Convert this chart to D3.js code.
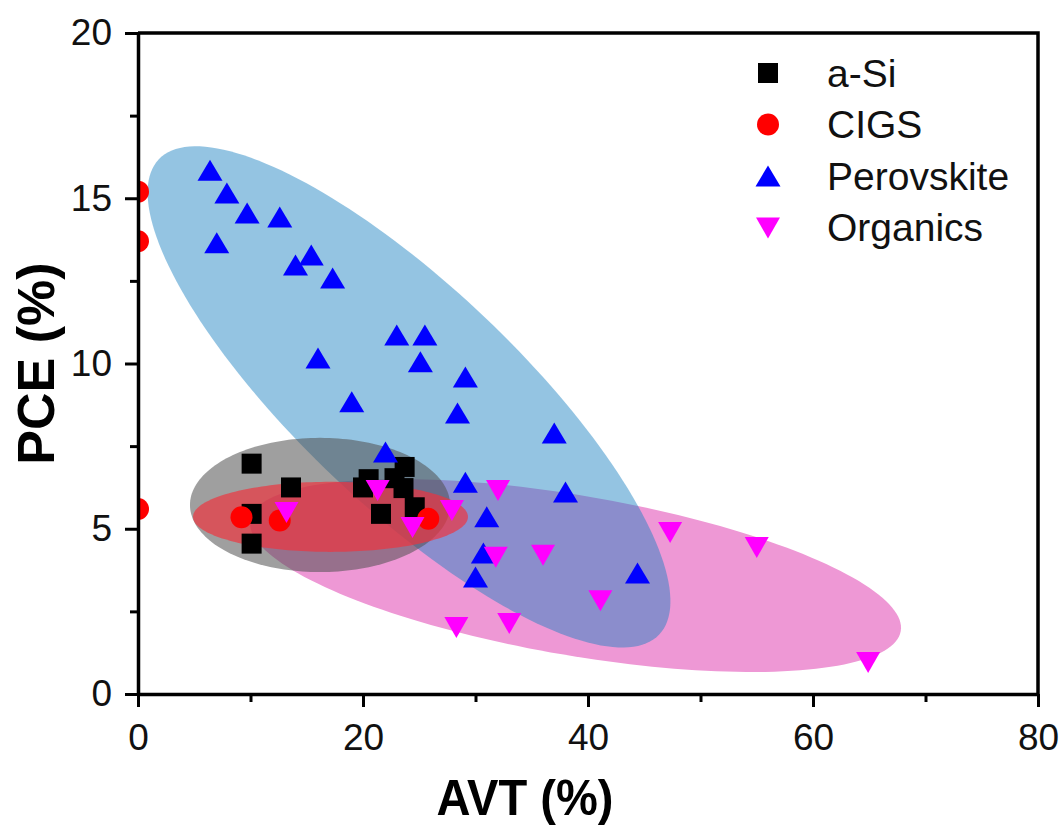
<!DOCTYPE html>
<html>
<head>
<meta charset="utf-8">
<script src="https://cdn.jsdelivr.net/npm/d3@7"></script>
<style>
  body { margin: 0; background: #fff; }
  svg { display: block; font-family: Arial, "Liberation Sans", sans-serif; }
</style>
</head>
<body>
<script>
const width = 1062;
const height = 827;

// series values (AVT %, PCE %)
const seriesNames = ["a-Si", "CIGS", "Perovskite", "Organics"];

const aSiAVT = [10.1, 13.6, 10.1, 10.1, 20.0, 20.5, 22.8, 23.7, 23.6, 21.6, 24.6];
const aSiPCE = [6.97, 6.25, 5.45, 4.55, 6.25, 6.5, 6.53, 6.87, 6.23, 5.45, 5.65];

const cigsAVT = [0, 0, 0, 9.2, 12.6, 25.8];
const cigsPCE = [15.2, 13.7, 5.6, 5.35, 5.25, 5.3];

const perovAVT = [6.4, 7.9, 9.7, 7.0, 12.6, 15.4, 14.0, 17.3, 23.0, 25.5, 25.1, 16.0,
                  29.1, 19.0, 28.4, 22.0, 37.0, 29.1, 38.0, 31.0, 30.7, 30.0, 44.4];
const perovPCE = [15.85, 15.16, 14.55, 13.65, 14.43, 13.28, 12.98, 12.59, 10.86, 10.86, 10.05, 10.17,
                  9.59, 8.84, 8.5, 7.32, 7.9, 6.41, 6.11, 5.36, 4.27, 3.54, 3.66];

const orgAVT = [21.3, 13.2, 24.4, 27.9, 32.0, 31.8, 36.0, 41.1, 28.3, 33.0, 47.3, 55.0, 64.9];
const orgPCE = [6.17, 5.51, 5.05, 5.57, 6.17, 4.15, 4.21, 2.84, 2.03, 2.15, 4.9, 4.45, 0.97];

// shaded regions, in data units: centre and two conjugate semi-axes
const regionOrder = ["Organics", "Perovskite", "a-Si", "CIGS"];
const regionCenter = [[38.89, 3.585], [24.09, 8.99], [16.18, 5.72], [17.11, 5.36]];
const regionAxisA = [[28.91, -1.682], [22.24, -7.19], [11.56, 0], [12.22, 0]];
const regionAxisB = [[-1.198, -2.386], [-6.73, -2.41], [0, 2.03], [0, 1.06]];

const xTicks = [0, 20, 40, 60, 80];
const xMinor = [10, 30, 50, 70];
const yTicks = [0, 5, 10, 15, 20];
const yMinor = [2.5, 7.5, 12.5, 17.5];

const regionFill = {"Organics": "#ee98d5", "Perovskite": "#1c82c2", "a-Si": "#505050", "CIGS": "#f0323c"};
const regionOpacity = {"Organics": 1, "Perovskite": 0.47, "a-Si": 0.55, "CIGS": 0.68};
const markerColor = {"a-Si": "#000000", "CIGS": "#ff0000", "Perovskite": "#0000ff", "Organics": "#ff00ff"};

const x = d3.scaleLinear().domain([0, 80]).range([138, 1038]);
const y = d3.scaleLinear().domain([0, 20]).range([694, 33]);

const svg = d3.select("body").append("svg")
    .attr("width", width)
    .attr("height", height);

svg.append("clipPath").attr("id", "plot-clip")
  .append("rect")
    .attr("x", x(0)).attr("y", y(20))
    .attr("width", x(80) - x(0)).attr("height", y(0) - y(20));

const plot = svg.append("g").attr("clip-path", "url(#plot-clip)");

// ellipses
const ellipseLine = d3.line()
    .x(d => x(d[0]))
    .y(d => y(d[1]))
    .curve(d3.curveLinearClosed);

regionOrder.forEach((name, i) => {
  const c = regionCenter[i], a = regionAxisA[i], b = regionAxisB[i];
  const pts = d3.range(0, 360, 2).map(deg => {
    const t = deg * Math.PI / 180;
    return [c[0] + a[0] * Math.cos(t) + b[0] * Math.sin(t),
            c[1] + a[1] * Math.cos(t) + b[1] * Math.sin(t)];
  });
  plot.append("path")
      .attr("d", ellipseLine(pts))
      .attr("fill", regionFill[name])
      .attr("fill-opacity", regionOpacity[name]);
});

// marker shapes
function markerPath(name) {
  if (name === "a-Si") return "M-10,-10H10V10H-10Z";
  if (name === "CIGS") return d3.arc()({innerRadius: 0, outerRadius: 11, startAngle: 0, endAngle: 2 * Math.PI});
  if (name === "Perovskite") return "M0,-10.5L12.5,10.5L-12.5,10.5Z";
  return "M0,11L12,-10L-12,-10Z";
}

const seriesData = [
  d3.zip(aSiAVT, aSiPCE),
  d3.zip(cigsAVT, cigsPCE),
  d3.zip(perovAVT, perovPCE),
  d3.zip(orgAVT, orgPCE)
];

seriesNames.forEach((name, i) => {
  plot.append("g")
    .selectAll("path")
    .data(seriesData[i])
    .join("path")
      .attr("transform", d => `translate(${x(d[0])},${y(d[1])})`)
      .attr("d", markerPath(name))
      .attr("fill", markerColor[name]);
});

// axes
svg.append("g")
    .attr("transform", `translate(0,${y(0)})`)
    .call(d3.axisBottom(x).tickValues(xTicks).tickSize(13).tickSizeOuter(0).tickPadding(17));
svg.append("g")
    .attr("transform", `translate(0,${y(0)})`)
    .call(d3.axisBottom(x).tickValues(xMinor).tickSize(8).tickFormat(""))
    .call(g => g.select(".domain").remove());

svg.append("g")
    .attr("transform", `translate(${x(0)},0)`)
    .call(d3.axisLeft(y).tickValues(yTicks).tickSize(13).tickSizeOuter(0).tickPadding(13));
svg.append("g")
    .attr("transform", `translate(${x(0)},0)`)
    .call(d3.axisLeft(y).tickValues(yMinor).tickSize(8).tickFormat(""))
    .call(g => g.select(".domain").remove());

svg.selectAll(".tick line").attr("stroke", "#000").attr("stroke-width", 3);
svg.selectAll(".domain").attr("stroke", "#000").attr("stroke-width", 3.5);
svg.selectAll(".tick text")
    .attr("font-size", 37)
    .attr("font-family", "Arial, 'Liberation Sans', sans-serif")
    .attr("fill", "#111");

// top and right frame
svg.append("path")
    .attr("d", `M${x(0)},${y(20)}H${x(80)}V${y(0)}`)
    .attr("fill", "none")
    .attr("stroke", "#000")
    .attr("stroke-width", 3.5);

// axis titles
svg.append("text")
    .attr("x", 525)
    .attr("y", 815)
    .attr("text-anchor", "middle")
    .attr("font-size", 50)
    .attr("font-weight", "bold")
    .attr("textLength", 177)
    .attr("lengthAdjust", "spacingAndGlyphs")
    .text("AVT (%)");

svg.append("text")
    .attr("transform", `translate(54,${(y(0) + y(20)) / 2}) rotate(-90)`)
    .attr("text-anchor", "middle")
    .attr("font-size", 52)
    .attr("font-weight", "bold")
    .text("PCE (%)");

// legend
const legend = svg.append("g")
  .selectAll("g")
  .data(seriesNames)
  .join("g")
    .attr("transform", (d, i) => `translate(768,${73 + i * 51.5})`);

legend.append("path")
    .attr("d", d => markerPath(d))
    .attr("fill", d => markerColor[d]);

legend.append("text")
    .attr("x", 59)
    .attr("dy", "0.35em")
    .attr("font-size", 39)
    .attr("fill", "#111")
    .text(d => d);
</script>
</body>
</html>
